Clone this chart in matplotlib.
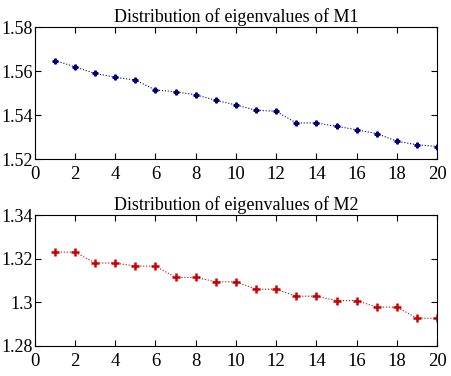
import numpy as np
import matplotlib.pyplot as plt

plt.rcParams['font.family'] = ['Liberation Serif', 'DejaVu Serif']

idx = np.arange(1, 21)
m1 = [1.5648, 1.5619, 1.5589, 1.5572, 1.5559, 1.5514, 1.5506, 1.5492, 1.5467, 1.5446,
      1.5422, 1.5417, 1.5364, 1.5364, 1.5349, 1.5333, 1.5316, 1.5281, 1.5265, 1.5257]
m2 = [1.3230, 1.3230, 1.3180, 1.3180, 1.3166, 1.3166, 1.3114, 1.3114, 1.3094, 1.3094,
      1.3060, 1.3060, 1.3028, 1.3028, 1.3008, 1.3008, 1.2978, 1.2978, 1.2927, 1.2927]
xticks = np.arange(0, 21, 2)

fig = plt.figure(figsize=(4.52, 3.76), dpi=100)
ax1 = fig.add_axes([0.077, 0.577, 0.890, 0.351])
ax2 = fig.add_axes([0.077, 0.080, 0.890, 0.348])

ax1.plot(idx, m1, ':', color='#00007f', lw=0.8, marker='P', ms=3.5, mec='#00007f', mfc='#00007f')
ax1.set_ylim(1.52, 1.58)
ax1.set_yticks([1.52, 1.54, 1.56, 1.58])
ax1.set_yticklabels(['1.52', '1.54', '1.56', '1.58'])
ax1.set_title('Distribution of eigenvalues of M1', fontsize=13, pad=4)

ax2.plot(idx, m2, ':', color='#cc0000', lw=0.8, marker='+', ms=6, mew=1.8, mec='#cc0000')
ax2.set_ylim(1.28, 1.34)
ax2.set_yticks([1.28, 1.30, 1.32, 1.34])
ax2.set_yticklabels(['1.28', '1.3', '1.32', '1.34'])
ax2.set_title('Distribution of eigenvalues of M2', fontsize=13, pad=4)

for ax in (ax1, ax2):
    ax.set_xlim(0, 20)
    ax.set_xticks(xticks)
    ax.tick_params(direction='in', top=True, right=True, labelsize=13, length=4, pad=1.5)
    ax.tick_params(axis='x', pad=5, labelsize=13.5)

fig.savefig('out.png', dpi=100)
